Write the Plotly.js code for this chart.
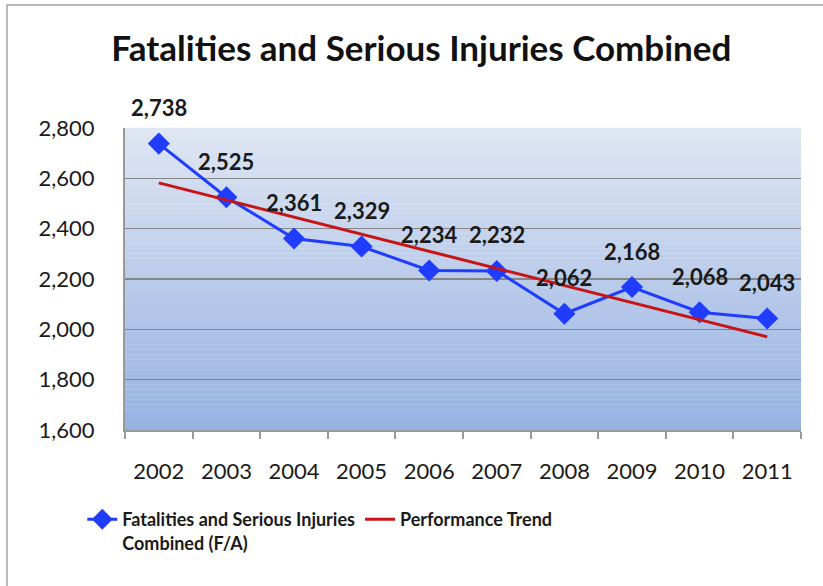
<!DOCTYPE html>
<html>
<head>
<meta charset="utf-8">
<script src="https://cdn.plot.ly/plotly-3.0.1.min.js"></script>
<style>
  html, body { margin: 0; padding: 0; background: #fff; }
  #wrap { position: relative; width: 823px; height: 586px; overflow: hidden; }
  #chart { position: absolute; left: 0; top: 0; width: 823px; height: 586px; }
  #frame { position: absolute; left: 6px; top: 4px; width: 840px; height: 620px;
           border: 2px solid #b8b8b8; pointer-events: none; }
</style>
</head>
<body>
<div id="wrap">
  <div id="chart"></div>
  <div id="frame"></div>
</div>
<script>
// ---- data ----
const years = ['2002','2003','2004','2005','2006','2007','2008','2009','2010','2011'];
const combined = [2738, 2525, 2361, 2329, 2234, 2232, 2062, 2168, 2068, 2043];
const trendYears = ['2002', '2011'];
const trendValues = [2582, 1970];
const yTickVals = [1600, 1800, 2000, 2200, 2400, 2600, 2800];
const yTickText = ['1,600', '1,800', '2,000', '2,200', '2,400', '2,600', '2,800'];

const FONT = 'Lato, "Open Sans", sans-serif';
const TXT = '#1a1a1a';

const traces = [
  {
    x: years, y: combined, type: 'scatter', mode: 'lines+markers',
    name: 'Fatalities and Serious Injuries<br>Combined (F/A)',
    line: { color: '#1f3cff', width: 3 },
    marker: { symbol: 'diamond', size: 17, color: '#1f3cff' }
  },
  {
    x: trendYears, y: trendValues, type: 'scatter', mode: 'lines',
    name: 'Performance Trend',
    line: { color: '#c81414', width: 3 }
  }
];

// data labels above each point (x given as category index)
const annotations = years.map((yr, i) => ({
  x: years.indexOf(yr), y: combined[i], xref: 'x', yref: 'y',
  text: combined[i].toLocaleString('en-US'),
  showarrow: false, yshift: 36,
  font: { family: FONT, size: 22, color: TXT, weight: 700 }
}));

// vertical gradient background for the plot area (decoration)
const shapes = [];
const N = 60;
const gradTop = [223, 230, 243], gradBot = [150, 178, 226];
for (let k = 0; k < N; k++) {
  const t = (k + 0.5) / N;
  const c = gradTop.map((v, j) => Math.round(v + (gradBot[j] - v) * t));
  shapes.push({
    type: 'rect', xref: 'paper', yref: 'paper', layer: 'below',
    x0: 0, x1: 1, y0: 1 - (k + 1) / N, y1: 1 - k / N + 0.001,
    fillcolor: `rgb(${c[0]},${c[1]},${c[2]})`, line: { width: 0 }
  });
}

const layout = {
  width: 823, height: 586,
  paper_bgcolor: '#ffffff', plot_bgcolor: 'rgba(0,0,0,0)',
  margin: { l: 125, r: 22, t: 128, b: 156 },
  font: { family: FONT, color: TXT },
  title: {
    text: '<b>Fatalities and Serious Injuries Combined</b>',
    x: 0.512, xanchor: 'center', y: 0.916, yanchor: 'middle',
    font: { family: FONT, size: 35, color: '#111' }
  },
  showlegend: true,
  legend: {
    orientation: 'h', xref: 'container', yref: 'container',
    x: 0.1, xanchor: 'left', y: 0.145, yanchor: 'top',
    valign: 'top', bgcolor: 'rgba(0,0,0,0)',
    font: { family: FONT, size: 18, color: TXT, weight: 700 },
    itemwidth: 30, traceorder: 'normal'
  },
  xaxis: {
    type: 'category', categoryorder: 'array', categoryarray: years,
    range: [-0.5, 9.5], showgrid: false, zeroline: false,
    showline: true, linecolor: '#999', linewidth: 2,
    ticks: 'outside', tickson: 'boundaries', ticklen: 7, tickcolor: '#999', tickwidth: 2,
    ticklabelstandoff: 21,
    tickfont: { family: FONT, size: 22, color: TXT }
  },
  yaxis: {
    range: [1600, 2800], tickvals: yTickVals, ticktext: yTickText,
    showgrid: true, gridcolor: '#858585', gridwidth: 1.5,
    zeroline: false, showline: true, linecolor: '#999', linewidth: 2,
    ticks: '', ticklabelstandoff: 24,
    tickfont: { family: FONT, size: 22, color: TXT }
  },
  shapes: shapes,
  annotations: annotations
};

Plotly.newPlot('chart', traces, layout, { displayModeBar: false, staticPlot: true });
</script>
</body>
</html>
